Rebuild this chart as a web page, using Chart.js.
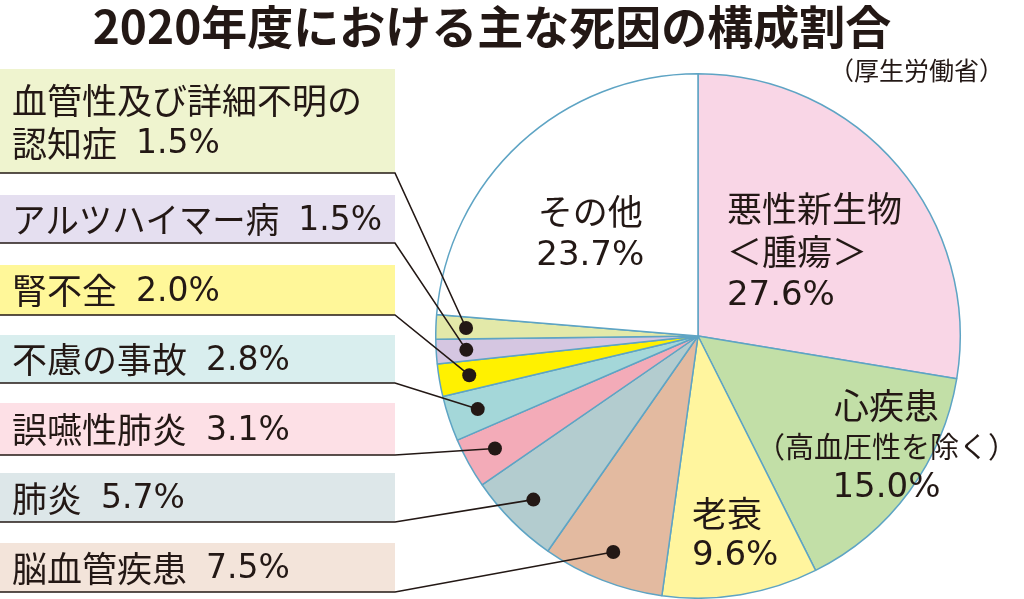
<!DOCTYPE html>
<html><head><meta charset="utf-8">
<script src="https://cdn.jsdelivr.net/npm/chart.js@4.4.1/dist/chart.umd.min.js"></script>
<style>html,body{margin:0;padding:0;background:#fff;overflow:hidden}#wrap{width:1024px;height:599px;position:relative}</style>
</head><body><div id="wrap"><canvas id="c"></canvas></div>
<script>
const titleText = '2020年度における主な死因の構成割合';
const sourceText = '（厚生労働省）';
const categories = ['悪性新生物＜腫瘍＞','心疾患（高血圧性を除く）','老衰','脳血管疾患','肺炎','誤嚥性肺炎','不慮の事故','腎不全','アルツハイマー病','血管性及び詳細不明の認知症','その他'];
const shares = [27.6, 15.0, 9.6, 7.5, 5.7, 3.1, 2.8, 2.0, 1.5, 1.5, 23.7];
const sliceColors = ['#f9d6e6','#c2dfa7','#fff59e','#e3baa0','#b3cccf','#f3abb8','#a4d7d9','#fff100','#d5c6e1','#e3e9a9','#ffffff'];
const calloutFills = ['#f3e4da','#dde7e9','#fde0e6','#d9eeee','#fff799','#e5dff0','#eff4cf'];
const calloutIdx = [3,4,5,6,7,8,9];
const calloutText = [['脳血管疾患'],['肺炎'],['誤嚥性肺炎'],['不慮の事故'],['腎不全'],['アルツハイマー病'],['血管性及び詳細不明の','認知症']];
const insideIdx = [0,1,2,10];
const insideText = [['悪性新生物','＜腫瘍＞'],['心疾患','（高血圧性を除く）'],['老衰'],['その他']];

const INK = '#231815';
const FONT = "'Noto Sans CJK JP','Noto Sans',sans-serif";
const NUMFONT = "'DejaVu Sans','Noto Sans CJK JP',sans-serif";
const pct = v => v.toFixed(1) + '%';

const deco = {
  id:'deco',
  beforeDatasetsDraw(chart){
    const ctx = chart.ctx;
    ctx.save();
    ctx.fillStyle = INK;
    ctx.font = "bold 46px " + FONT;
    ctx.textAlign = 'center'; ctx.textBaseline = 'middle';
    ctx.fillText(titleText, 492, 27);
    ctx.font = "25px " + FONT;
    ctx.textAlign = 'right';
    ctx.fillText(sourceText, 1004, 70);
    const boxes = [[543,592],[473,522],[403,455],[335,383],[265,315],[195,243],[69,173]];
    ctx.textAlign = 'left';
    calloutIdx.forEach((idx,k)=>{
      const [t,b] = boxes[k];
      ctx.fillStyle = calloutFills[k];
      ctx.fillRect(0,t,395,b-t);
      ctx.fillStyle = INK;
      const lines = calloutText[k];
      const n = lines.length;
      const lh = 43;
      const mid = (t+b)/2 + 1;
      lines.forEach((ln,j)=>{
        const y = mid + (j-(n-1)/2)*lh;
        ctx.font = "35px " + FONT;
        let w = ctx.measureText(ln).width;
        if(j===n-1){
          const p = pct(shares[idx]);
          ctx.font = "33px " + NUMFONT;
          const pw = ctx.measureText(p).width;
          const gap = 19;
          const maxLabel = 370 - gap - pw;
          if (w > maxLabel) w = maxLabel;
          ctx.fillText(p, 12 + w + gap, y + 1);
          ctx.font = "35px " + FONT;
          ctx.fillText(ln, 12, y, w);
        } else {
          ctx.fillText(ln, 12, y);
        }
      });
    });
    ctx.restore();
  },
  afterDatasetsDraw(chart){
    const ctx = chart.ctx;
    const arcs = chart.getDatasetMeta(0).data;
    const boxes = [[543,592],[473,522],[403,455],[335,383],[265,315],[195,243],[69,173]];
    ctx.save();
    calloutIdx.forEach((idx,k)=>{
      const a = arcs[idx];
      const m = (a.startAngle + a.endAngle)/2;
      const r = a.outerRadius*0.885;
      const dx = a.x + Math.cos(m)*r, dy = a.y + Math.sin(m)*r;
      const yb = boxes[k][1];
      ctx.strokeStyle = INK; ctx.lineWidth = 1.6;
      ctx.beginPath(); ctx.moveTo(0,yb); ctx.lineTo(395,yb); ctx.lineTo(dx,dy); ctx.stroke();
      ctx.fillStyle = INK;
      ctx.beginPath(); ctx.arc(dx,dy,7,0,Math.PI*2); ctx.fill();
    });
    const a0 = arcs[0];
    const cx = a0.x, cy = a0.y, s = a0.outerRadius/263;
    const layout = [
      {dx:29, dy:-128, lh:43.5, align:'left', sizes:[35,35,34]},
      {dx:189, dy:70, lh:41, align:'center', sizes:[35,29,34]},
      {dx:-6, dy:178, lh:42, align:'left', sizes:[35,34]},
      {dx:-108, dy:-125, lh:44, align:'center', sizes:[35,34]}
    ];
    ctx.fillStyle = INK; ctx.textBaseline = 'middle';
    insideIdx.forEach((idx,k)=>{
      const L = layout[k];
      const lines = insideText[k].concat([pct(shares[idx])]);
      ctx.textAlign = L.align;
      lines.forEach((ln,j)=>{
        const isNum = j === lines.length-1;
        ctx.font = L.sizes[j] + "px " + (isNum ? NUMFONT : FONT);
        ctx.fillText(ln, cx + L.dx*s, cy + (L.dy + j*L.lh)*s + (isNum?1:0));
      });
    });
    ctx.restore();
  }
};

new Chart(document.getElementById('c'), {
  type:'pie',
  data:{labels:categories, datasets:[{data:shares, backgroundColor:sliceColors, borderColor:'#5ea4c4', borderWidth:1.5, hoverOffset:0}]},
  options:{
    responsive:true, maintainAspectRatio:false, animation:false, events:[],
    layout:{padding:{left:435,right:63,top:73,bottom:0}},
    plugins:{legend:{display:false}, tooltip:{enabled:false}, title:{display:false}}
  },
  plugins:[deco]
});
</script></body></html>
